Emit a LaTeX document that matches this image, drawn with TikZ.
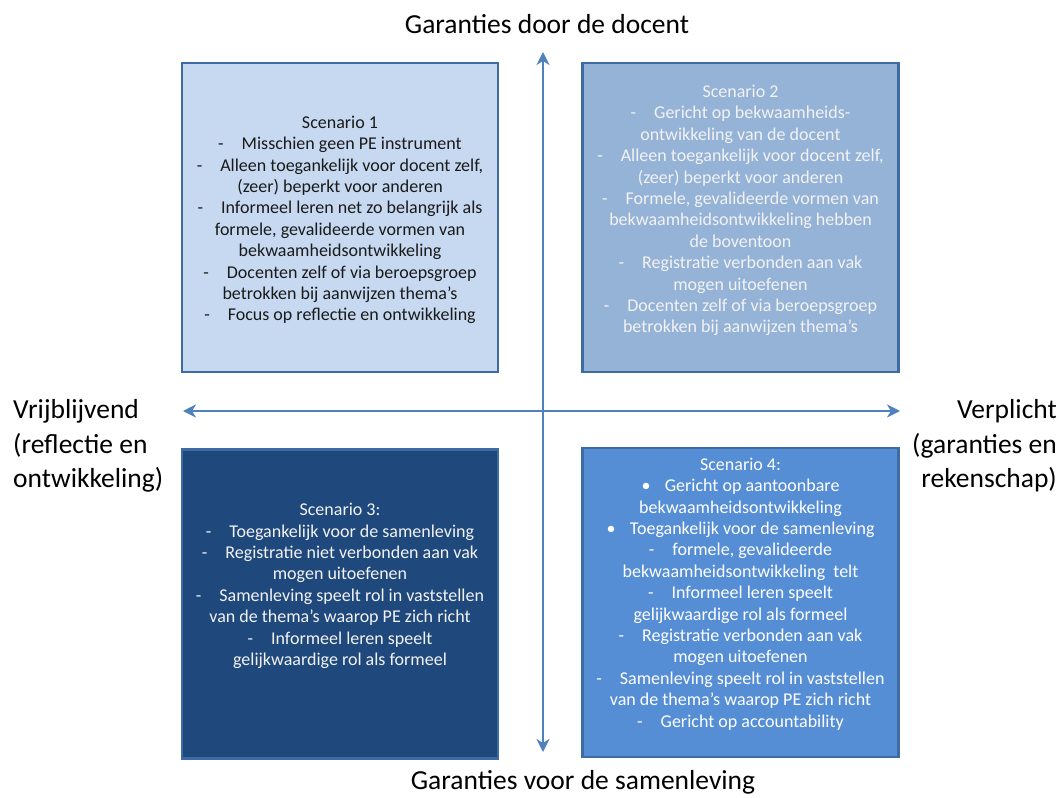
\documentclass[tikz,border=0pt]{standalone}
\usepackage{fontspec}
\setmainfont{Carlito}
\usetikzlibrary{arrows.meta}
\definecolor{bordercol}{HTML}{3E6BA3}
\definecolor{arrowcol}{HTML}{4F81BD}
\definecolor{fillA}{HTML}{C6D9F1}
\definecolor{fillB}{HTML}{95B3D7}
\definecolor{fillC}{HTML}{1F497D}
\definecolor{fillD}{HTML}{558ED5}
\definecolor{txtdark}{HTML}{1A1A1A}
\definecolor{txtlight}{HTML}{F2F2F2}
\newcommand\myd{-\hspace{1.0em}}
\newcommand\myb{\textbullet\hspace{0.8em}}
\begin{document}
\begin{tikzpicture}[x=1pt,y=-1pt,
  qbox/.style={draw=bordercol, line width=2.2pt, minimum width=316pt, minimum height=309pt, inner sep=0pt},
  btxt/.style={align=center, font=\fontsize{18}{21.4}\selectfont, inner sep=0pt},
  lbl/.style={font=\fontsize{27.5}{34.5}\selectfont, inner sep=0pt, text=black},
  axisline/.style={draw=arrowcol, line width=2.6pt, {Stealth[length=13pt,width=13pt,inset=4pt]}-{Stealth[length=13pt,width=13pt,inset=4pt]}}
]
\useasboundingbox (0,0) rectangle (1061,798);
\fill[white] (0,0) rectangle (1061,798);

% boxes
\node[qbox, fill=fillA] (s1) at (340,217.5) {};
\node[qbox, fill=fillB] (s2) at (740.5,217.5) {};
\node[qbox, fill=fillC] (s3) at (340,604) {};
\node[qbox, fill=fillD] (s4) at (740.5,602.5) {};

% axes
\coordinate (vtop) at (543,52);
\coordinate (vbot) at (543,752);
\coordinate (hleft) at (183,411);
\coordinate (hright) at (900,411);
\draw[axisline] (vtop) -- (vbot);
\draw[axisline] (hleft) -- (hright);

% box texts
\node[btxt, text=txtdark] (t1) at (340,220) {Scenario 1\\
\myd Misschien geen PE instrument\\
\myd Alleen toegankelijk voor docent zelf,\\
(zeer) beperkt voor anderen\\
\myd Informeel leren net zo belangrijk als\\
formele, gevalideerde vormen van\\
bekwaamheidsontwikkeling\\
\myd Docenten zelf of via beroepsgroep\\
betrokken bij aanwijzen thema’s\\
\myd Focus op reflectie en ontwikkeling};

\node[btxt, text=txtlight] (t2) at (740.5,210.5) {Scenario 2\\
\myd Gericht op bekwaamheids-\\
ontwikkeling van de docent\\
\myd Alleen toegankelijk voor docent zelf,\\
(zeer) beperkt voor anderen\\
\myd Formele, gevalideerde vormen van\\
bekwaamheidsontwikkeling hebben\\
de boventoon\\
\myd Registratie verbonden aan vak\\
mogen uitoefenen\\
\myd Docenten zelf of via beroepsgroep\\
betrokken bij aanwijzen thema’s};

\node[btxt, text=txtlight] (t3) at (340,586) {Scenario 3:\\
\myd Toegankelijk voor de samenleving\\
\myd Registratie niet verbonden aan vak\\
mogen uitoefenen\\
\myd Samenleving speelt rol in vaststellen\\
van de thema’s waarop PE zich richt\\
\myd Informeel leren speelt\\
gelijkwaardige rol als formeel};

\node[btxt, text=white] (t4) at (740.5,594) {Scenario 4:\\
\myb Gericht op aantoonbare\\
bekwaamheidsontwikkeling\\
\myb Toegankelijk voor de samenleving\\
\myd formele, gevalideerde\\
bekwaamheidsontwikkeling\ \ telt\\
\myd Informeel leren speelt\\
gelijkwaardige rol als formeel\\
\myd Registratie verbonden aan vak\\
mogen uitoefenen\\
\myd Samenleving speelt rol in vaststellen\\
van de thema’s waarop PE zich richt\\
\myd Gericht op accountability};

% axis labels
\node[lbl, anchor=base] (top) at (547,33) {Garanties door de docent};
\node[lbl, anchor=base] (bottom) at (583,789) {Garanties voor de samenleving};
\node[lbl, align=left, anchor=west] (left) at (13,446) {Vrijblijvend\\(reflectie en\\ontwikkeling)};
\node[lbl, align=right, anchor=east] (right) at (1057,446) {Verplicht\\(garanties en\\rekenschap)};
\end{tikzpicture}
\end{document}
